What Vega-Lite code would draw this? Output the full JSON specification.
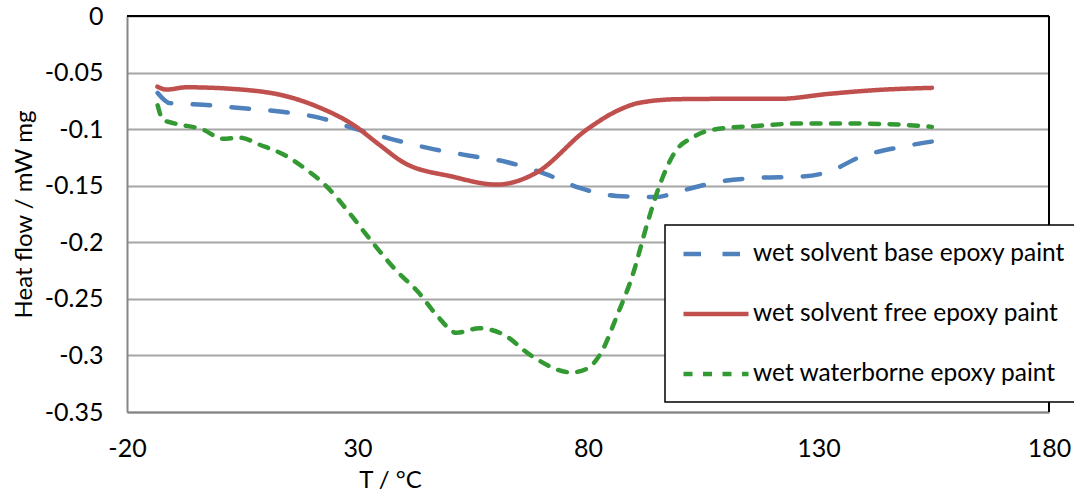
{
  "$schema": "https://vega.github.io/schema/vega-lite/v6.json",
  "width": 922,
  "height": 396,
  "autosize": {"type": "none"},
  "padding": {"left": 127, "top": 16, "right": 25, "bottom": 85},
  "background": "white",
  "config": {
    "view": {"stroke": null},
    "font": "Lato",
    "axis": {
      "labelFont": "Lato",
      "titleFont": "Lato",
      "labelColor": "#000000",
      "titleColor": "#000000",
      "labelFontSize": 25,
      "titleFontSize": 24,
      "titleFontWeight": "normal",
      "ticks": false,
      "domainColor": "#868686",
      "domainWidth": 2,
      "gridColor": "#a6a6a6",
      "gridWidth": 2
    },
    "legend": {
      "labelFont": "Lato",
      "labelFontSize": 24.5,
      "labelColor": "#000000"
    }
  },
  "data": {
    "values": [
      {"series": "wet solvent base epoxy paint", "T": -13.35, "v": -0.068},
      {"series": "wet solvent base epoxy paint", "T": -10.7, "v": -0.077},
      {"series": "wet solvent base epoxy paint", "T": -3.5, "v": -0.0785},
      {"series": "wet solvent base epoxy paint", "T": 4.5, "v": -0.0814},
      {"series": "wet solvent base epoxy paint", "T": 13.15, "v": -0.0844},
      {"series": "wet solvent base epoxy paint", "T": 21.8, "v": -0.090},
      {"series": "wet solvent base epoxy paint", "T": 29.0, "v": -0.099},
      {"series": "wet solvent base epoxy paint", "T": 37.6, "v": -0.109},
      {"series": "wet solvent base epoxy paint", "T": 45.7, "v": -0.117},
      {"series": "wet solvent base epoxy paint", "T": 54.3, "v": -0.1235},
      {"series": "wet solvent base epoxy paint", "T": 62.3, "v": -0.129},
      {"series": "wet solvent base epoxy paint", "T": 71.0, "v": -0.140},
      {"series": "wet solvent base epoxy paint", "T": 78.2, "v": -0.152},
      {"series": "wet solvent base epoxy paint", "T": 86.2, "v": -0.159},
      {"series": "wet solvent base epoxy paint", "T": 94.8, "v": -0.160},
      {"series": "wet solvent base epoxy paint", "T": 99.8, "v": -0.155},
      {"series": "wet solvent base epoxy paint", "T": 108.5, "v": -0.1464},
      {"series": "wet solvent base epoxy paint", "T": 117.2, "v": -0.143},
      {"series": "wet solvent base epoxy paint", "T": 125.8, "v": -0.142},
      {"series": "wet solvent base epoxy paint", "T": 132.3, "v": -0.1376},
      {"series": "wet solvent base epoxy paint", "T": 138.8, "v": -0.125},
      {"series": "wet solvent base epoxy paint", "T": 147.5, "v": -0.116},
      {"series": "wet solvent base epoxy paint", "T": 154.6, "v": -0.111},
      {"series": "wet solvent free epoxy paint", "T": -13.4, "v": -0.0625},
      {"series": "wet solvent free epoxy paint", "T": -11.4, "v": -0.065},
      {"series": "wet solvent free epoxy paint", "T": -7.1, "v": -0.063},
      {"series": "wet solvent free epoxy paint", "T": 3.8, "v": -0.0647},
      {"series": "wet solvent free epoxy paint", "T": 14.6, "v": -0.071},
      {"series": "wet solvent free epoxy paint", "T": 21.8, "v": -0.081},
      {"series": "wet solvent free epoxy paint", "T": 29.0, "v": -0.096},
      {"series": "wet solvent free epoxy paint", "T": 34.8, "v": -0.114},
      {"series": "wet solvent free epoxy paint", "T": 39.8, "v": -0.129},
      {"series": "wet solvent free epoxy paint", "T": 50.6, "v": -0.142},
      {"series": "wet solvent free epoxy paint", "T": 60.2, "v": -0.149},
      {"series": "wet solvent free epoxy paint", "T": 68.8, "v": -0.1385},
      {"series": "wet solvent free epoxy paint", "T": 79.7, "v": -0.1005},
      {"series": "wet solvent free epoxy paint", "T": 86.8, "v": -0.0829},
      {"series": "wet solvent free epoxy paint", "T": 91.2, "v": -0.0767},
      {"series": "wet solvent free epoxy paint", "T": 99.8, "v": -0.0735},
      {"series": "wet solvent free epoxy paint", "T": 110.7, "v": -0.0732},
      {"series": "wet solvent free epoxy paint", "T": 121.5, "v": -0.0732},
      {"series": "wet solvent free epoxy paint", "T": 132.3, "v": -0.0688},
      {"series": "wet solvent free epoxy paint", "T": 143.2, "v": -0.0653},
      {"series": "wet solvent free epoxy paint", "T": 154.6, "v": -0.0635},
      {"series": "wet waterborne epoxy paint", "T": -13.35, "v": -0.079},
      {"series": "wet waterborne epoxy paint", "T": -12.2, "v": -0.0917},
      {"series": "wet waterborne epoxy paint", "T": -10.0, "v": -0.0946},
      {"series": "wet waterborne epoxy paint", "T": -3.5, "v": -0.1005},
      {"series": "wet waterborne epoxy paint", "T": 0.8, "v": -0.1085},
      {"series": "wet waterborne epoxy paint", "T": 4.5, "v": -0.1075},
      {"series": "wet waterborne epoxy paint", "T": 8.8, "v": -0.1138},
      {"series": "wet waterborne epoxy paint", "T": 14.67, "v": -0.124},
      {"series": "wet waterborne epoxy paint", "T": 19.0, "v": -0.136},
      {"series": "wet waterborne epoxy paint", "T": 23.27, "v": -0.1505},
      {"series": "wet waterborne epoxy paint", "T": 28.23, "v": -0.174},
      {"series": "wet waterborne epoxy paint", "T": 33.22, "v": -0.200},
      {"series": "wet waterborne epoxy paint", "T": 38.18, "v": -0.224},
      {"series": "wet waterborne epoxy paint", "T": 43.16, "v": -0.244},
      {"series": "wet waterborne epoxy paint", "T": 47.3, "v": -0.265},
      {"series": "wet waterborne epoxy paint", "T": 51.46, "v": -0.280},
      {"series": "wet waterborne epoxy paint", "T": 56.42, "v": -0.276},
      {"series": "wet waterborne epoxy paint", "T": 61.41, "v": -0.281},
      {"series": "wet waterborne epoxy paint", "T": 67.97, "v": -0.301},
      {"series": "wet waterborne epoxy paint", "T": 76.34, "v": -0.315},
      {"series": "wet waterborne epoxy paint", "T": 79.65, "v": -0.312},
      {"series": "wet waterborne epoxy paint", "T": 82.93, "v": -0.297},
      {"series": "wet waterborne epoxy paint", "T": 86.28, "v": -0.265},
      {"series": "wet waterborne epoxy paint", "T": 89.6, "v": -0.230},
      {"series": "wet waterborne epoxy paint", "T": 92.89, "v": -0.183},
      {"series": "wet waterborne epoxy paint", "T": 95.41, "v": -0.151},
      {"series": "wet waterborne epoxy paint", "T": 98.74, "v": -0.121},
      {"series": "wet waterborne epoxy paint", "T": 102.86, "v": -0.107},
      {"series": "wet waterborne epoxy paint", "T": 106.98, "v": -0.1005},
      {"series": "wet waterborne epoxy paint", "T": 117.2, "v": -0.097},
      {"series": "wet waterborne epoxy paint", "T": 125.8, "v": -0.095},
      {"series": "wet waterborne epoxy paint", "T": 136.7, "v": -0.095},
      {"series": "wet waterborne epoxy paint", "T": 147.5, "v": -0.096},
      {"series": "wet waterborne epoxy paint", "T": 154.6, "v": -0.098}
    ]
  },
  "layer": [
    {
      "mark": {"type": "line", "interpolate": "monotone", "strokeWidth": 4.5, "strokeCap": "round"},
      "encoding": {
        "x": {
          "field": "T", "type": "quantitative",
          "scale": {"domain": [-20, 180], "nice": false, "zero": false},
          "axis": {
            "values": [-20, 30, 80, 130, 180],
            "grid": false,
            "labelFlush": false,
            "labelExpr": "'' + datum.value",
            "labelPadding": 24,
            "title": "T / °C",
            "titleX": 263,
            "titleY": 56
          }
        },
        "y": {
          "field": "v", "type": "quantitative",
          "scale": {"domain": [-0.35, 0], "nice": false, "zero": false},
          "axis": {
            "values": [0, -0.05, -0.1, -0.15, -0.2, -0.25, -0.3, -0.35],
            "labelExpr": "'' + datum.value",
            "labelPadding": 24,
            "title": "Heat flow / mW mg",
            "titlePadding": 8
          }
        },
        "color": {
          "field": "series", "type": "nominal",
          "scale": {
            "domain": ["wet solvent base epoxy paint", "wet solvent free epoxy paint", "wet waterborne epoxy paint"],
            "range": ["#4f81bd", "#c0504d", "#339933"]
          },
          "legend": {
            "title": null,
            "orient": "none",
            "legendX": 538,
            "legendY": 209,
            "fillColor": "white",
            "strokeColor": "black",
            "padding": 16,
            "symbolType": "stroke",
            "symbolSize": 4225,
            "symbolStrokeWidth": 4.5,
            "labelOffset": 2,
            "rowPadding": 35,
            "labelLimit": 400,
            "encode": {
              "legend": {"update": {"strokeWidth": {"value": 1.5}}},
              "symbols": {"update": {"y": {"value": 13}}},
              "labels": {"update": {"y": {"value": 13}}}
            }
          }
        },
        "strokeDash": {
          "field": "series", "type": "nominal",
          "scale": {
            "domain": ["wet solvent base epoxy paint", "wet solvent free epoxy paint", "wet waterborne epoxy paint"],
            "range": [[17.5, 21.5], [1, 0], [9, 10.5]]
          },
          "legend": null
        }
      }
    },
    {
      "mark": {"type": "rule", "color": "black", "strokeWidth": 2},
      "encoding": {"y": {"datum": 0}}
    },
    {
      "mark": {"type": "rule", "color": "black", "strokeWidth": 1.5},
      "encoding": {"x": {"datum": 180}}
    }
  ]
}
